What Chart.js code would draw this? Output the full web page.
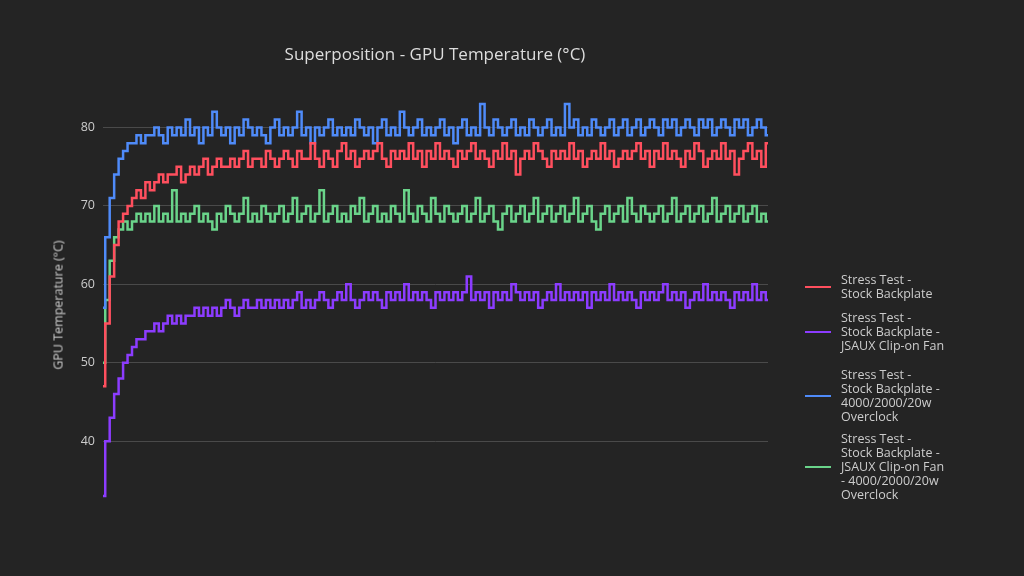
<!DOCTYPE html>
<html><head><meta charset="utf-8">
<script src="https://cdn.jsdelivr.net/npm/chart.js@4"></script>
<style>
body{margin:0;background:#242424;width:1024px;height:576px;overflow:hidden;font-family:"Open Sans",sans-serif;position:relative}
#t{position:absolute;left:0;width:870px;top:42px;text-align:center;color:#ddd;font-size:17px}
#yt{position:absolute;left:58px;top:305px;transform:translate(-50%,-50%) rotate(-90deg);color:#ccc;font-size:12.5px;white-space:nowrap;font-weight:normal}
.li{position:absolute;left:805px;display:flex;align-items:center;color:#ccc;font-size:12.5px;line-height:14px;transform:translateY(-50%)}
.li span{display:inline-block;width:26px;height:2px;margin-right:10px}
</style></head><body>
<div id="t">Superposition - GPU Temperature (°C)</div>
<div id="yt">GPU Temperature (°C)</div>
<canvas id="c" width="1024" height="576"></canvas>
<script>
const seriesNames=[["Stress Test -","Stock Backplate"],["Stress Test -","Stock Backplate -","JSAUX Clip-on Fan"],["Stress Test -","Stock Backplate -","4000/2000/20w","Overclock"],["Stress Test -","Stock Backplate -","JSAUX Clip-on Fan","- 4000/2000/20w","Overclock"]];
const colors=["#ff4f5e","#8c3cff","#4f8bf9","#6ad48a"];
const yTicks=[40,50,60,70,80];
const red=[47,55,61,65,68,69,70,71,72,71,73,72,73,74,73,74,74,75,73,74,75,74,75,76,74,75,76,75,75,76,
75,76,77,75,76,76,75,77,76,75,76,77,76,75,77,76,76,78,76,75,
77,76,75,77,78,76,77,75,76,77,76,77,78,76,75,77,76,77,76,78,
76,77,75,77,76,78,76,77,76,75,77,76,77,78,76,77,76,75,77,76,
78,76,77,74,76,77,76,78,77,76,75,77,76,77,76,78,76,77,75,76,
77,76,78,76,77,75,76,77,76,77,78,76,77,75,77,76,78,76,77,76,
75,77,76,78,77,75,76,77,76,78,76,77,74,76,77,78,76,77,75,78];
const blue=[57,66,71,74,76,77,78,78,79,78,79,79,80,79,78,80,79,80,79,81,
79,80,78,80,79,82,80,79,80,78,80,79,81,80,79,80,79,78,80,81,
79,80,79,80,82,79,80,78,80,79,80,81,79,80,79,80,79,81,80,79,
80,78,80,81,79,80,79,82,80,79,80,81,79,80,79,80,81,79,80,78,
80,81,79,80,79,83,80,79,81,80,79,80,81,79,80,79,81,80,79,80,
81,79,80,79,83,80,81,79,80,79,81,80,79,80,81,79,80,81,79,80,
81,79,80,81,80,79,81,80,81,79,80,81,80,79,81,80,81,79,80,81,
80,79,81,80,81,79,80,81,80,79];
const green=[50,58,63,66,67,68,67,68,69,68,69,68,70,68,69,68,72,68,69,68,
69,70,68,69,68,67,69,68,70,69,68,69,71,68,69,68,70,69,68,69,
70,68,69,71,68,69,70,68,69,72,68,69,70,68,69,68,70,69,71,68,
69,70,68,69,68,70,69,68,72,69,68,70,69,68,71,69,68,70,69,68,
69,70,68,69,71,68,69,70,68,67,69,70,68,69,70,68,69,71,68,69,
70,68,69,70,68,69,71,68,69,70,68,67,69,70,68,69,70,68,71,69,
68,70,69,68,69,70,68,69,71,68,69,70,68,69,70,68,69,71,68,69,
70,68,69,70,68,69,70,68,69,68];
const purple=[33,40,43,46,48,50,51,52,53,53,54,54,55,54,55,56,55,56,55,56,
56,57,56,57,56,57,56,57,58,57,56,57,58,57,57,58,57,58,57,58,
57,58,57,58,59,57,58,57,58,59,58,57,58,59,58,60,58,57,58,59,
58,59,58,57,59,58,59,58,60,58,59,58,59,58,57,59,58,59,58,59,
58,59,61,58,59,58,59,57,59,58,59,58,60,59,58,59,58,59,57,58,
59,58,60,58,59,58,59,58,59,57,59,58,59,58,60,58,59,58,59,58,
57,59,58,59,58,59,60,58,59,58,59,57,58,59,58,60,58,59,58,59,
58,57,59,58,59,58,60,58,59,58];
const labels=red.map((_,i)=>i);
const data=[red,purple,blue,green];
new Chart(document.getElementById('c'),{type:'line',
data:{labels,datasets:data.map((d,i)=>({data:d,borderColor:colors[i],borderWidth:2.5,pointRadius:0,stepped:'middle'}))},
options:{responsive:false,animation:false,
layout:{padding:{left:50,right:256,top:100,bottom:76}},
plugins:{legend:{display:false},tooltip:{enabled:false}},
scales:{x:{display:false},
y:{min:32.5,max:83.5,afterFit:s=>{s.width=53},afterBuildTicks:s=>{s.ticks=yTicks.map(v=>({value:v}))},
grid:{color:'#4a4a4a',drawTicks:false},border:{display:false},
ticks:{color:'#ccc',font:{size:12.5,family:'Open Sans'},padding:8}}}}});
const ys=[287,332,396,467];
seriesNames.forEach((n,i)=>{const d=document.createElement('div');d.className='li';d.style.top=ys[i]+'px';
d.innerHTML='<span style="background:'+colors[i]+'"></span><div>'+n.join('<br>')+'</div>';document.body.appendChild(d);});
</script></body></html>
